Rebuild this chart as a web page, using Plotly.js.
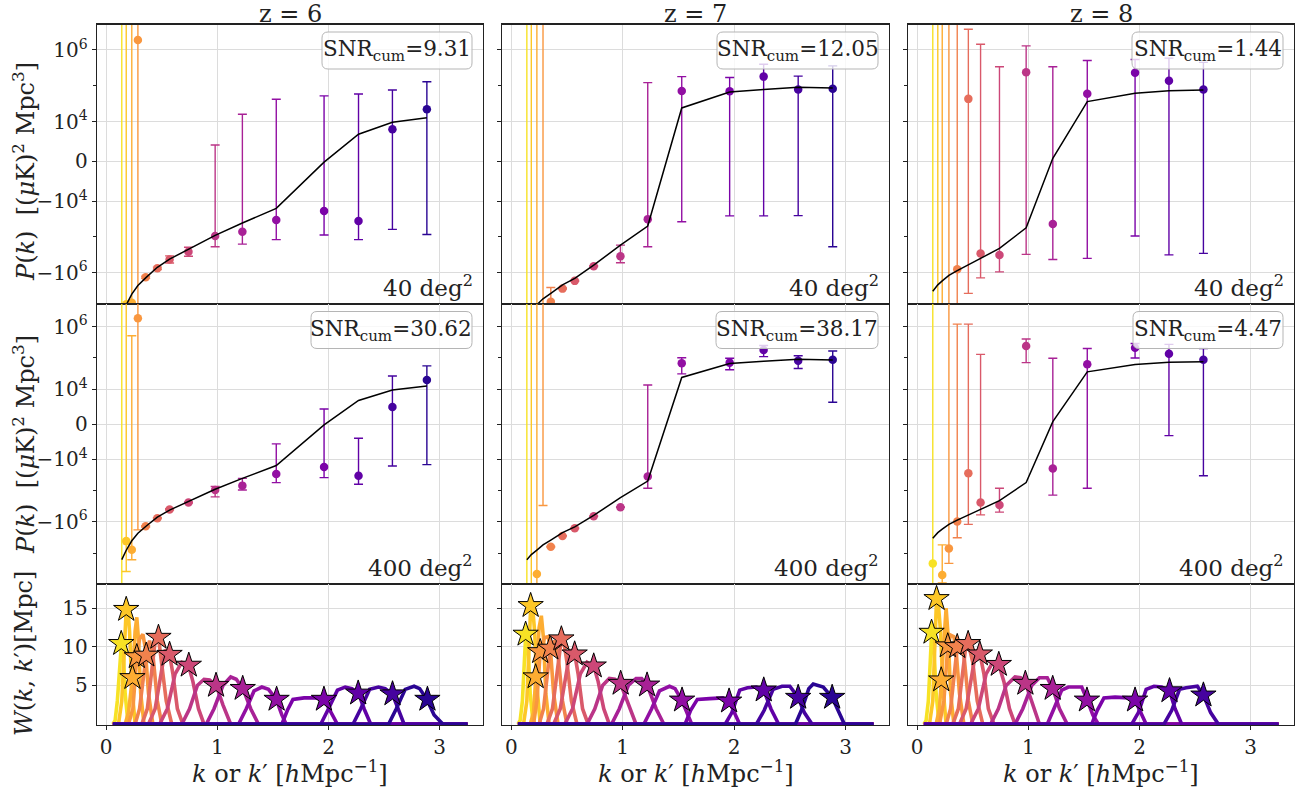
<!DOCTYPE html>
<html><head><meta charset="utf-8">
<script src="https://cdn.plot.ly/plotly-3.0.1.min.js"></script>
<style>html,body{margin:0;padding:0;background:#fff}#chart{width:1307px;height:793px}</style>
</head><body><div id="chart"></div>
<script>
// ---------------- DATA ----------------
const redshifts = ['z = 6', 'z = 7', 'z = 8'];
const kBins6 = [0.14,0.18,0.23,0.285,0.355,0.46,0.57,0.74,0.98,1.225,1.53,1.96,2.27,2.575,2.885];
const kBins7 = [0.14,0.18,0.23,0.285,0.355,0.46,0.57,0.74,0.98,1.225,1.53,1.96,2.265,2.575,2.885];
const kBins8 = [0.14,0.185,0.225,0.285,0.36,0.46,0.57,0.74,0.98,1.22,1.53,1.96,2.265,2.575];

const model6 = [-1.6e7,-8.0e6,-4.0e6,-2.3e6,-1.4e6,-7.1e5,-4.2e5,-2.2e5,-9.1e4,-4.1e4,-1.6e4,-200,6800,9800,1.28e4];
const model7 = [-1.6e7,-1.1e7,-7.9e6,-5.4e6,-3.8e6,-2.2e6,-1.44e6,-6.2e5,-1.7e5,-5.0e4,2.4e4,6.7e4,7.9e4,9.1e4,8.6e4];
const model8 = [-3.3e6,-2.2e6,-1.7e6,-1.2e6,-8.8e5,-6.2e5,-4.0e5,-2.1e5,-5.6e4,750,3.6e4,6.2e4,7.3e4,7.6e4];

// 40 deg^2 survey: measured P(k), lower and upper error ends
const p6_40  = [-1e9,-7.7e6,-6.9e6,1.9e6,-1.35e6,-7.6e5,-4.3e5,-2.6e5,-9.5e4,-7.2e4,-3.4e4,-1.9e4,-3.6e4,8050,2.2e4];
const lo6_40 = [-1e10,-1e10,-1e10,-1e10,-1.45e6,-8.2e5,-5.4e5,-3.5e5,-1.9e5,-1.6e5,-1.2e5,-8.9e4,-1.2e5,-6.2e4,-8.6e4];
const hi6_40 = [1e10,1e10,1e10,1e10,-1.26e6,-7.0e5,-3.4e5,-1.95e5,4100,1.6e4,4.2e4,5.2e4,5.9e4,7.6e4,1.3e5];
const p7_40  = [-1e9,-1e9,-1e9,-1e9,-6.5e6,-2.8e6,-1.7e6,-6.6e5,-3.5e5,-3.2e4,7.1e4,7.0e4,1.8e5,7.9e4,8.3e4];
const lo7_40 = [-1e10,-1e10,-1e10,-1e10,-1e10,-2.9e6,-1.75e6,-6.8e5,-5.3e5,-1.9e5,-3.8e4,-2.6e4,-2.6e4,-2.55e4,-1.9e5];
const hi7_40 = [1e10,1e10,1e10,1e10,-2.6e6,-2.7e6,-1.65e6,-6.4e5,-1.7e5,1.22e5,1.8e5,1.7e5,4.0e5,1.86e5,3.6e5];
const p8_40  = [-1e9,-1e9,-1e9,-1e9,-8.1e5,4.3e4,-2.9e5,-3.2e5,2.4e5,-4.4e4,6.0e4,2.3e5,1.38e5,7.9e4];
const lo8_40 = [-1e10,-1e10,-1e10,-1e10,-1e10,-3.8e6,-1.4e6,-9.5e5,-3.1e5,-4.3e5,-4.0e5,-9.5e4,-3.2e5,-2.9e5];
const hi8_40 = [1e10,1e10,1e10,1e10,1e10,3.8e6,1.44e6,3.4e5,1.3e6,3.4e5,5.1e5,5.4e5,5.9e5,4.5e5];

// 400 deg^2 survey
const p6_400  = [-1e9,-4.1e6,-7.7e6,1.84e6,-1.38e6,-7.6e5,-4.0e5,-2.4e5,-9.6e4,-7.0e4,-3.0e4,-1.78e4,-3.4e4,4960,2.0e4];
const lo6_400 = [-1e10,-3.8e7,-1.6e7,-1.8e6,-1.45e6,-7.9e5,-4.2e5,-2.5e5,-1.6e5,-9.6e4,-5.6e4,-3.9e4,-6.3e4,-1.65e4,-1.5e4];
const hi6_400 = [1e10,1e10,5.1e5,1e10,-1.32e6,-7.3e5,-3.8e5,-2.3e5,-7.5e4,-4.1e4,-5640,4380,-4010,2.67e4,5.6e4];
const p7_400  = [-1e9,-1e9,-4.6e7,5e7,-6.2e6,-2.8e6,-1.6e6,-6.6e5,-3.4e5,-3.6e4,6.8e4,7.1e4,1.8e5,8.2e4,8.7e4];
const lo7_400 = [-1e10,-1e10,-1e10,-3.0e5,-6.3e6,-2.85e6,-1.63e6,-6.7e5,-3.45e5,-8.5e4,3.1e4,4.2e4,1.1e5,4.6e4,6300];
const hi7_400 = [1e10,1e10,1e10,1e10,-6.1e6,-2.75e6,-1.57e6,-6.5e5,-3.35e5,1.38e4,1.02e5,9.8e4,2.5e5,1.17e5,1.67e5];
const p8_400  = [-2.1e7,-1e10,-4.9e7,-7.1e6,-9.8e5,-2.8e4,-2.4e5,-2.9e5,2.4e5,-2.0e4,6.3e4,2.1e5,1.35e5,8.7e4];
const lo8_400 = [-1e10,-1e10,-8.9e7,-2.1e7,-3.2e6,-1.2e6,-6.0e5,-4.9e5,7.1e4,-1.4e5,-8.5e4,1.0e5,-3270,-3.4e4];
const hi8_400 = [1e10,-1e10,-5.4e6,1e10,1.2e6,1.2e6,1.3e5,-8.5e4,4.0e5,9.8e4,2.0e5,2.9e5,2.7e5,2.0e5];

const snr40  = ['9.31','12.05','1.44'];
const snr400 = ['30.62','38.17','4.47'];

// window functions W(k,k') : [k' values, W values] for each k bin
const win6 = [
 [[0.06,0.08,0.10,0.12,0.14,0.155,0.17,0.19,0.21,3.25],[0,0.5,3,8,11,9,4,1,0,0]],
 [[0.06,0.11,0.14,0.16,0.18,0.195,0.21,0.23,0.26,3.25],[0,0,3,10,14.8,15,12,5,0,0]],
 [[0.06,0.17,0.2,0.236,0.26,0.275,0.29,0.31,0.34,3.25],[0,0,1.5,6,12,13.8,11,4,0,0]],
 [[0.06,0.2,0.24,0.275,0.3,0.33,0.35,0.38,0.42,3.25],[0,0,2,8.7,11,11.6,10,4,0,0]],
 [[0.06,0.26,0.3,0.33,0.36,0.39,0.42,0.46,0.5,3.25],[0,0,2,5.5,9,10.8,9,3,0,0]],
 [[0.06,0.32,0.37,0.41,0.445,0.47,0.5,0.54,0.59,3.25],[0,0,2,7,11.3,11.2,8,3,0,0]],
 [[0.06,0.38,0.44,0.49,0.53,0.57,0.6,0.64,0.69,3.25],[0,0,2,6.5,9.6,9,6.5,2,0,0]],
 [[0.06,0.48,0.55,0.62,0.68,0.74,0.78,0.83,0.88,3.25],[0,0,2,6.5,8,7.6,5.5,2,0,0]],
 [[0.06,0.68,0.75,0.82,0.88,0.93,0.99,1.05,1.12,3.25],[0,0,2,5,5.8,5.7,5.0,2.5,0,0]],
 [[0.06,0.9,0.97,1.05,1.12,1.17,1.23,1.3,1.37,3.25],[0,0,2,5,6.1,5.8,4.6,2,0,0]],
 [[0.06,1.19,1.26,1.33,1.4,1.46,1.53,1.58,1.62,3.25],[0,0,2,4.3,4.8,4.5,3.2,1.2,0,0]],
 [[0.06,1.58,1.63,1.68,1.78,1.88,1.96,2.02,2.08,3.25],[0,0,1.8,3.2,3.4,3.4,3.2,1.5,0,0]],
 [[0.06,1.93,2.0,2.08,2.15,2.21,2.27,2.32,2.38,3.25],[0,0,2,4.4,4.8,4.6,4.0,2,0,0]],
 [[0.06,2.22,2.29,2.37,2.45,2.51,2.575,2.63,2.68,3.25],[0,0,2,4.5,4.8,4.6,3.9,1.8,0,0]],
 [[0.06,2.54,2.61,2.69,2.77,2.82,2.885,2.95,3.03,3.25],[0,0,2,4.5,4.9,4.6,3.2,1.2,0,0]]
];
const win7 = [
 [[0.06,0.08,0.10,0.115,0.13,0.15,0.17,0.19,0.21,3.25],[0,0.5,3,8,11.6,10,4,1,0,0]],
 [[0.06,0.11,0.14,0.16,0.175,0.19,0.21,0.23,0.26,3.25],[0,0,3,11,15.3,15.4,12,5,0,0]],
 [[0.06,0.17,0.2,0.22,0.25,0.27,0.29,0.31,0.34,3.25],[0,0,1.5,6.1,12.5,14,11,4,0,0]],
 [[0.06,0.2,0.23,0.26,0.3,0.33,0.35,0.38,0.42,3.25],[0,0,3,9.35,11.2,11.3,10,4,0,0]],
 [[0.06,0.25,0.29,0.32,0.35,0.39,0.42,0.46,0.5,3.25],[0,0,2,6,9.8,10.8,9,3,0,0]],
 [[0.06,0.32,0.37,0.41,0.45,0.47,0.5,0.54,0.59,3.25],[0,0,2,7,11,10.8,8,3,0,0]],
 [[0.06,0.38,0.44,0.49,0.53,0.57,0.6,0.64,0.69,3.25],[0,0,2,6.5,9.6,9.05,6.5,2,0,0]],
 [[0.06,0.48,0.55,0.62,0.68,0.74,0.78,0.83,0.88,3.25],[0,0,2,6.5,8,7.5,5.5,2,0,0]],
 [[0.06,0.68,0.75,0.82,0.88,0.93,0.98,1.05,1.12,3.25],[0,0,2,5,5.9,5.8,5.26,2.5,0,0]],
 [[0.06,0.9,0.97,1.05,1.12,1.17,1.22,1.3,1.37,3.25],[0,0,2,5,5.9,5.9,5.04,2,0,0]],
 [[0.06,1.19,1.26,1.33,1.42,1.47,1.53,1.58,1.62,3.25],[0,0,2,4.3,4.9,4.6,3.1,1.2,0,0]],
 [[0.06,1.56,1.61,1.67,1.78,1.9,1.955,2.0,2.05,3.25],[0,0,1.8,3.2,3.3,3.4,3.0,1.5,0,0]],
 [[0.06,1.92,1.98,2.05,2.12,2.2,2.266,2.33,2.4,3.25],[0,0,1.5,4.4,4.7,4.8,4.4,2,0,0]],
 [[0.06,2.2,2.27,2.35,2.43,2.5,2.575,2.63,2.7,3.25],[0,0,1.8,4.5,4.9,4.9,3.45,1.5,0,0]],
 [[0.06,2.55,2.61,2.67,2.71,2.8,2.88,2.94,2.99,3.25],[0,0,2,4.6,5.2,4.8,3.45,1.5,0,0]]
];
const win8 = [
 [[0.06,0.08,0.10,0.115,0.13,0.15,0.17,0.19,0.21,3.25],[0,0.5,3,8,11.85,10,4,1,0,0]],
 [[0.06,0.11,0.14,0.16,0.174,0.19,0.21,0.23,0.26,3.25],[0,0,3,12,16.2,15.5,12,5,0,0]],
 [[0.06,0.17,0.2,0.216,0.24,0.26,0.28,0.3,0.33,3.25],[0,0,2,5.7,12,15,11,4,0,0]],
 [[0.06,0.2,0.24,0.275,0.3,0.33,0.35,0.38,0.42,3.25],[0,0,3,10.1,11.5,11.3,9.5,4,0,0]],
 [[0.06,0.26,0.3,0.33,0.36,0.39,0.42,0.46,0.5,3.25],[0,0,2,6,10,10.8,9,3,0,0]],
 [[0.06,0.32,0.37,0.41,0.44,0.46,0.5,0.54,0.59,3.25],[0,0,2,7,10.4,10.4,8,3,0,0]],
 [[0.06,0.38,0.44,0.49,0.53,0.565,0.6,0.64,0.69,3.25],[0,0,2,6.5,9.6,9.05,6.5,2,0,0]],
 [[0.06,0.48,0.55,0.62,0.68,0.734,0.78,0.83,0.88,3.25],[0,0,2,6.5,8,7.7,5.5,2,0,0]],
 [[0.06,0.66,0.73,0.8,0.88,0.93,0.975,1.04,1.1,3.25],[0,0,2,5,6.1,6.0,5.26,2.5,0,0]],
 [[0.06,0.88,0.95,1.03,1.1,1.17,1.22,1.28,1.35,3.25],[0,0,2,5,6,6,4.6,2,0,0]],
 [[0.06,1.17,1.23,1.3,1.36,1.48,1.53,1.58,1.63,3.25],[0,0,2,4.4,4.8,4.8,3.1,1.2,0,0]],
 [[0.06,1.57,1.62,1.68,1.78,1.9,1.96,2.01,2.06,3.25],[0,0,1.8,3.4,3.5,3.4,3.1,1.5,0,0]],
 [[0.06,1.93,1.99,2.06,2.13,2.2,2.27,2.32,2.38,3.25],[0,0,1.5,4.5,4.9,4.8,4.3,2,0,0]],
 [[0.06,2.22,2.29,2.36,2.42,2.52,2.575,2.64,2.71,3.25],[0,0,1.8,4.5,4.7,4.9,3.75,1.5,0,0]]
];

const starK6 = [0.135,0.18,0.236,0.275,0.36,0.47,0.57,0.743,0.988,1.228,1.533,1.959,2.267,2.576,2.89];
const starW6 = [10.4,14.8,6.0,8.7,8.9,11.2,9.0,7.6,5.0,4.6,3.2,3.2,4.0,3.9,3.2];
const starK7 = [0.129,0.174,0.219,0.26,0.35,0.45,0.569,0.74,0.982,1.219,1.533,1.955,2.266,2.575,2.88];
const starW7 = [11.6,15.3,6.1,9.35,9.8,11.0,9.05,7.5,5.26,5.04,3.1,2.97,4.4,3.45,3.45];
const starK8 = [0.129,0.174,0.216,0.275,0.36,0.458,0.563,0.734,0.973,1.219,1.527,1.96,2.27,2.575];
const starW8 = [11.85,16.2,5.7,10.1,10.0,10.4,9.05,7.7,5.26,4.6,3.1,3.1,4.3,3.75];

const yTickVals = [1e6, 1e4, 0, -1e4, -1e6];
const yTickText = ['10<sup>6</sup>','10<sup>4</sup>','0','−10<sup>4</sup>','−10<sup>6</sup>'];

// ---------------- STYLE / HELPERS ----------------
const FONT = 'DejaVu Serif, Liberation Serif, Noto Serif, serif';
const W = 1307, H = 793;
const px = x => x / W, py = y => 1 - y / H;
const colsPx = [[97,483],[502,889],[908,1294]];
const rowsPx = [[24.5,304],[304,584],[584,725]];
const LIN = 1e4, LSC = 1/(1-0.1);
function T(v){ if (v === null) return null; const a = Math.abs(v);
  return a <= LIN ? LSC*v/LIN : Math.sign(v)*(LSC + Math.log10(a/LIN)); }
const plasmaHex = ['#0d0887','#2a0593','#41049d','#5402a3','#6a00a8','#7e03a8','#8f0da4','#a11b9b','#b12a90','#bf3984','#cc4778','#d6556d','#e16462','#ea7457','#f2844b','#f89540','#fca636','#feb72d','#fcce25','#f7e225','#f0f921'];
function hex2rgb(h){return [1,3,5].map(i=>parseInt(h.substr(i,2),16));}
function plasma(t){ const n = plasmaHex.length-1; const f = Math.max(0,Math.min(1,t))*n;
  const i = Math.min(n-1, Math.floor(f)); const u = f - i;
  const a = hex2rgb(plasmaHex[i]), b = hex2rgb(plasmaHex[i+1]);
  return 'rgb(' + a.map((v,j)=>Math.round(v+(b[j]-v)*u)).join(',') + ')'; }
const binColor = i => plasma(0.95 - i*0.9/14);

const panels = [
  {k:kBins6, model:model6, d40:[p6_40,lo6_40,hi6_40], d400:[p6_400,lo6_400,hi6_400], win:win6, sk:starK6, sw:starW6},
  {k:kBins7, model:model7, d40:[p7_40,lo7_40,hi7_40], d400:[p7_400,lo7_400,hi7_400], win:win7, sk:starK7, sw:starW7},
  {k:kBins8, model:model8, d40:[p8_40,lo8_40,hi8_40], d400:[p8_400,lo8_400,hi8_400], win:win8, sk:starK8, sw:starW8}
];

const traces = [];
const layout = {width:W, height:H, margin:{l:0,r:0,t:0,b:0}, paper_bgcolor:'#fff', plot_bgcolor:'#fff',
  showlegend:false, font:{family:FONT, color:'#000'}, annotations:[], shapes:[]};

const yRanges = [[-3.988,3.823],[-5.09,3.83],[-0.1,18.1]];
const minorVals = [[1e5,-1e5],[1e5,-1e5,-1e7]];

for (let r=0;r<3;r++) for (let c=0;c<3;c++){
  const n = r*3+c+1, s = n===1?'':String(n);
  layout['xaxis'+s] = {domain:[px(colsPx[c][0]),px(colsPx[c][1])], anchor:'y'+s, range:[-0.083,3.39],
    showline:true, mirror:true, linecolor:'#222', linewidth:1.3, showgrid:true, gridcolor:'#dcdcdc', gridwidth:1,
    zeroline:false, tickmode:'array', tickvals:[0,1,2,3], ticktext:['0','1','2','3'], showticklabels:r===2,
    ticks:'outside', ticklen:4, tickcolor:'#222', tickfont:{family:FONT,size:20,color:'#222'}};
  const ya = {domain:[py(rowsPx[r][1]),py(rowsPx[r][0])], anchor:'x'+s, range:yRanges[r],
    showline:true, mirror:true, linecolor:'#222', linewidth:1.3, showgrid:true, gridcolor:'#dcdcdc', gridwidth:1,
    zeroline:false, ticks:'outside', ticklen:4, tickcolor:'#222', showticklabels:c===0,
    tickfont:{family:FONT,size:20,color:'#222'}};
  if (r<2){ ya.tickmode='array'; ya.tickvals=yTickVals.map(T); ya.ticktext=yTickText;
    ya.minor={tickmode:'array', tickvals:minorVals[r].map(T), ticks:'outside', ticklen:2.5, tickcolor:'#222', showgrid:false}; }
  else { ya.tickmode='array'; ya.tickvals=[5,10,15]; ya.ticktext=['5','10','15']; }
  layout['yaxis'+s] = ya;
}

function ax(r,c){ const n=r*3+c+1; return n===1?['x','y']:['x'+n,'y'+n]; }

panels.forEach((P,c)=>{
  [P.d40, P.d400].forEach((d,r)=>{
    const [xa,ya] = ax(r,c);
    const [val,lo,hi] = d;
    P.k.forEach((k,i)=>{
      const col = binColor(i);
      const tv = T(val[i]);
      traces.push({type:'scatter', mode:'markers', x:[k], y:[tv], xaxis:xa, yaxis:ya, cliponaxis:true,
        hoverinfo:'skip', marker:{color:col, size:8.5},
        error_y:{type:'data', symmetric:false, array:[T(hi[i])-tv], arrayminus:[tv-T(lo[i])],
          color:col, thickness:1.4, width:4.5}});
    });
    traces.push({type:'scatter', mode:'lines', x:P.k, y:P.model.map(T), xaxis:xa, yaxis:ya,
      line:{color:'#000', width:1.5}, hoverinfo:'skip'});
  });
  const [xa,ya] = ax(2,c);
  P.win.forEach((w,i)=>{
    traces.push({type:'scatter', mode:'lines', x:w[0], y:w[1], xaxis:xa, yaxis:ya,
      line:{color:binColor(i), width:3.6}, hoverinfo:'skip'});
  });
  traces.push({type:'scatter', mode:'markers', x:P.sk, y:P.sw, xaxis:xa, yaxis:ya, cliponaxis:false,
    marker:{symbol:'star', size:19, color:P.sk.map((_,i)=>binColor(i)), line:{color:'#000', width:1}}, hoverinfo:'skip'});
});

// text annotations
function rrect(x0,y0,x1,y1,rad){
  const X=px, Y=py;
  return `M${X(x0+rad)},${Y(y0)} L${X(x1-rad)},${Y(y0)} Q${X(x1)},${Y(y0)} ${X(x1)},${Y(y0+rad)} L${X(x1)},${Y(y1-rad)} Q${X(x1)},${Y(y1)} ${X(x1-rad)},${Y(y1)} L${X(x0+rad)},${Y(y1)} Q${X(x0)},${Y(y1)} ${X(x0)},${Y(y1-rad)} L${X(x0)},${Y(y0+rad)} Q${X(x0)},${Y(y0)} ${X(x0+rad)},${Y(y0)} Z`;
}
const boxW = [[150,161,151],[161,162,150]];
for (let c=0;c<3;c++){
  const cx = (colsPx[c][0]+colsPx[c][1])/2;
  layout.annotations.push({xref:'paper',yref:'paper',x:px(cx),y:py(13.5),text:redshifts[c],showarrow:false,
    xanchor:'center',yanchor:'middle',font:{family:FONT,size:24,color:'#222'}});
  layout.annotations.push({xref:'paper',yref:'paper',x:px(cx),y:py(772),
    text:'<i>k</i> or <i>k</i>′ [<i>h</i>Mpc<sup>−1</sup>]',showarrow:false,
    xanchor:'center',yanchor:'middle',font:{family:FONT,size:24,color:'#222'}});
  for (let r=0;r<2;r++){
    const right = colsPx[c][1]-11, top = rowsPx[r][0]+7.5, bw = boxW[r][c];
    layout.shapes.push({type:'path', xref:'paper', yref:'paper', path:rrect(right-bw,top,right,top+37,6),
      line:{color:'#b5b5b5',width:1}, fillcolor:'rgba(255,255,255,0.8)', layer:'above'});
    layout.annotations.push({xref:'paper',yref:'paper',x:px(right-bw/2),y:py(top+18.5),
      text:'SNR<sub>cum</sub>='+(r===0?snr40[c]:snr400[c]),showarrow:false,xanchor:'center',yanchor:'middle',
      font:{family:FONT,size:21.5,color:'#222'}});
    layout.annotations.push({xref:'paper',yref:'paper',x:px(colsPx[c][1]-8),y:py(rowsPx[r][1]-1),
      text:(r===0?'40':'400')+' deg<sup>2</sup>',showarrow:false,xanchor:'right',yanchor:'bottom',
      font:{family:FONT,size:23,color:'#222'}});
  }
}
const yt = '<i>P</i>(<i>k</i>)  [(<i>μ</i>K)<sup>2</sup> Mpc<sup>3</sup>]';
[[172,yt],[445,yt],[654,'<i>W</i>(<i>k</i>, <i>k</i>′)[Mpc]']].forEach(([y,t])=>{
  layout.annotations.push({xref:'paper',yref:'paper',x:px(24),y:py(y),text:t,textangle:-90,showarrow:false,
    xanchor:'center',yanchor:'middle',font:{family:FONT,size:24,color:'#222'}});
});

Plotly.newPlot('chart', traces, layout, {staticPlot:true, displayModeBar:false});
</script></body></html>
